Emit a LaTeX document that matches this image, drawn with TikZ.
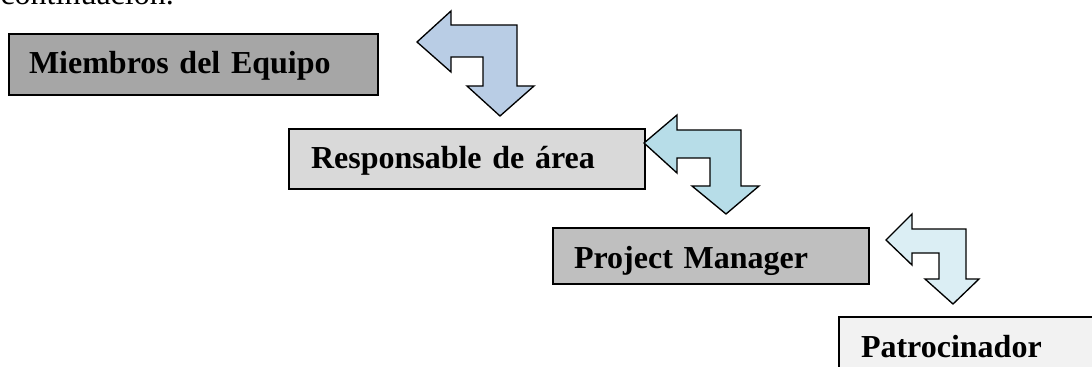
\documentclass[tikz,border=0pt]{standalone}
\usepackage{fontspec}
\setmainfont{Liberation Serif}

\definecolor{boxdark}{HTML}{A6A6A6}
\definecolor{boxlight}{HTML}{D9D9D9}
\definecolor{boxmid}{HTML}{BFBFBF}
\definecolor{boxpale}{HTML}{F2F2F2}
\definecolor{arrowsteel}{HTML}{B9CDE5}
\definecolor{arrowaqua}{HTML}{B7DDE8}
\definecolor{arrowpale}{HTML}{DBEEF4}

\tikzset{every picture/.style={line width=0.75pt}}
\tikzset{
	rolebox/.style={draw, line width=1.5pt, anchor=north west, align=left, inner ysep=0pt, text height=30pt, font=\fontsize{24}{28}\selectfont\bfseries},
	bentarrow/.style={draw, line width=1pt, line join=miter}
}

\begin{document}
\begin{tikzpicture}[x=0.75pt,y=0.75pt,yscale=-1,xscale=1]
	      		\clip (0,0) rectangle (1092,367);
	      		
	      		\draw (0,4.5) node [anchor=base west][inner sep=0pt] (intro) {\fontsize{24}{28}\selectfont continuación.};
	      		
	      		%Shape: Rectangle [id:boxmiembros]
	      		\node [rolebox, fill=boxdark, text width=246.75pt, inner xsep=15pt, text depth=15.75pt] (miembros) at (8,33) {Miembros del Equipo};
	      		%Shape: Rectangle [id:boxresponsable]
	      		\node [rolebox, fill=boxlight, text width=234pt, inner xsep=16.5pt, text depth=15pt] (responsable) at (288,128) {Responsable de área};
	      		%Shape: Rectangle [id:boxmanager]
	      		\node [rolebox, fill=boxmid, text width=205.5pt, inner xsep=15.75pt, text depth=12pt] (manager) at (552,227) {Project Manager};
	      		%Shape: Rectangle [id:boxpatrocinador]
	      		\node [rolebox, fill=boxpale, text width=170pt, inner xsep=16.5pt, text depth=20pt] (patrocinador) at (838,316) {Patrocinador};
	      		
	      		%Shape: Bent Arrow [id:arrowone]
	      		\draw [bentarrow, fill=arrowsteel] (417,42) -- (451,11) -- (451,25) -- (517,25) -- (517,86) -- (534,86) -- (500,116) -- (467,86) -- (483,86) -- (483,57) -- (451,57) -- (451,72) -- cycle ;
	      		%Shape: Bent Arrow [id:arrowtwo]
	      		\draw [bentarrow, fill=arrowaqua] (644,143) -- (677,115) -- (677,130) -- (741,130) -- (741,186) -- (759,186) -- (726,214) -- (692,186) -- (710,186) -- (710,158) -- (677,158) -- (677,173) -- cycle ;
	      		%Shape: Bent Arrow [id:arrowthree]
	      		\draw [bentarrow, fill=arrowpale] (886,240) -- (912,214) -- (912,229) -- (966,229) -- (966,279) -- (979,279) -- (953,304) -- (925,279) -- (939,279) -- (939,253) -- (912,253) -- (912,265) -- cycle ;
	      		
	      	\end{tikzpicture}
\end{document}
